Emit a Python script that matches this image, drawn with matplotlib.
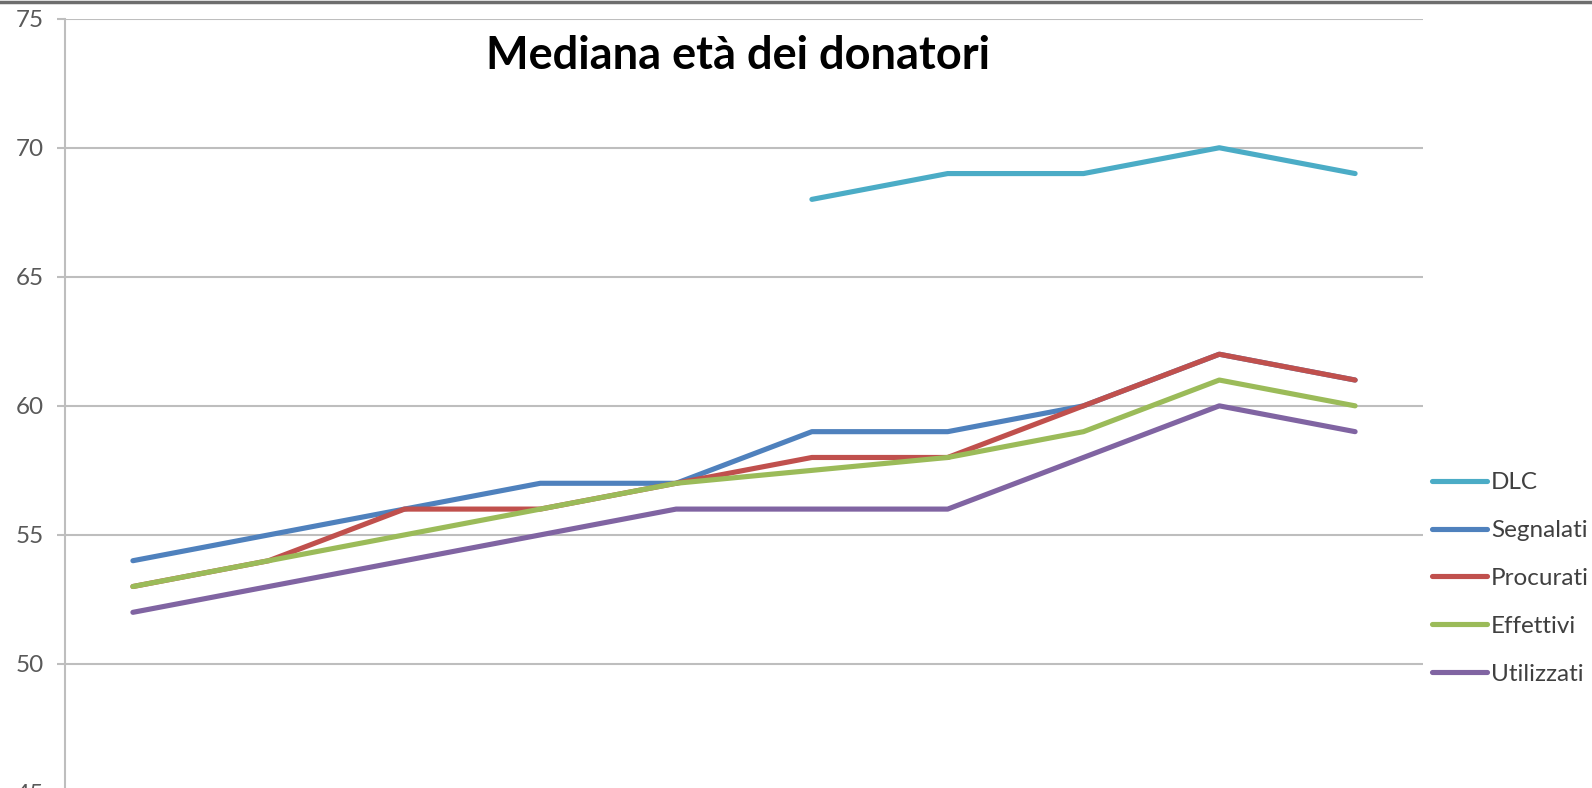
import numpy as np
import matplotlib
matplotlib.use('Agg')
import matplotlib.pyplot as plt
from matplotlib.lines import Line2D

plt.rcParams['font.family'] = ['Lato', 'DejaVu Sans']

# dati (10 periodi, etichette asse x non visibili)
periodi = list(range(10))
dlc = [np.nan, np.nan, np.nan, np.nan, np.nan, 68, 69, 69, 70, 69]
segnalati = [54, 55, 56, 57, 57, 59, 59, 60, 62, 61]
procurati = [53, 54, 56, 56, 57, 58, 58, 60, 62, 61]
effettivi = [53, 54, 55, 56, 57, 57.5, 58, 59, 61, 60]
utilizzati = [52, 53, 54, 55, 56, 56, 56, 58, 60, 59]

serie = ['DLC', 'Segnalati', 'Procurati', 'Effettivi', 'Utilizzati']
colori = ['#4BACC6', '#4F81BD', '#C0504D', '#9BBB59', '#8064A2']
valori = [dlc, segnalati, procurati, effettivi, utilizzati]

W, H = 1592, 788
fig = plt.figure(figsize=(W / 100, H / 100), dpi=100)
ax = fig.add_axes([65 / W, (H - 793) / H, (1423 - 65) / W, (793 - 18.7) / H])

for nome, col, val in zip(serie, colori, valori):
    ax.plot(periodi, val, color=col, lw=3.7, label=nome, solid_capstyle='round',
            solid_joinstyle='round', zorder=3)

ax.set_xlim(-0.5, 9.5)
ax.set_ylim(45, 75)
ax.set_yticks([45, 50, 55, 60, 65, 70, 75])
ax.yaxis.grid(True, color='#BEBEBE', lw=1.5)
ax.set_axisbelow(True)
for s in ['top', 'right', 'bottom']:
    ax.spines[s].set_visible(False)
ax.spines['left'].set_color('#BEBEBE')
ax.spines['left'].set_linewidth(1.5)
ax.tick_params(axis='y', length=6, width=1.5, color='#BEBEBE', labelsize=17.5,
               labelcolor='#595959', pad=9)
ax.tick_params(axis='x', bottom=False, labelbottom=False)

fig.text(738 / W, 1 - 56 / H, 'Mediana età dei donatori', ha='center', va='center',
         fontsize=32.5, fontweight='bold', color='black')

fig.legend(loc='upper left', bbox_to_anchor=(1432 / W, 1 - 472 / H), frameon=False,
           fontsize=17.5, handlelength=2.26, handletextpad=0.16, labelspacing=1.11,
           borderpad=0, borderaxespad=0, labelcolor='#404040')

# bordo superiore scuro
fig.add_artist(Line2D([0, 1], [1 - 1.5 / H, 1 - 1.5 / H], transform=fig.transFigure,
                      color='#6E6E6E', lw=2.5))

fig.savefig('out.png', dpi=100)
